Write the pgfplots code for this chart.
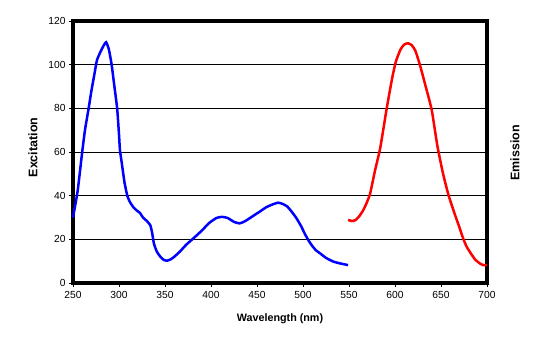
\documentclass[border=0pt]{standalone}
\usepackage{pgfplots}
\pgfplotsset{compat=1.18}
\usepackage{fontspec}
\setmainfont{Liberation Sans}
\begin{document}
\begin{tikzpicture}
\useasboundingbox (0,0) rectangle (540bp,337bp);
\begin{axis}[
  at={(73bp,54bp)}, anchor=south west,
  scale only axis, width=414bp, height=262bp,
  xmin=250, xmax=700, ymin=0, ymax=120,
  xtick={250,300,...,700}, ytick={0,20,...,120},
  axis line style={line width=3.4bp},
  ymajorgrids, major grid style={black, line width=0.9bp},
  tick align=outside, xtick pos=bottom, ytick pos=left,
  major tick length=4bp, tick style={black, line width=0.9bp},
  /pgf/number format/assume math mode=true,
  tick label style={font=\fontsize{10.3}{12}\selectfont},
  xticklabel style={yshift=-1bp},
  clip=false,
]
\addplot[blue, line width=2.5bp, smooth, tension=0.3] coordinates {
(250,30) (255,42) (260,60) (263,70) (267,80) (270,88) (273,95) (276,102)
(280,106) (283,108.5) (286,110.3) (289,107) (292,100) (295,90) (298,80)
(300,68) (301,61) (303,55) (306,46) (309,40) (312,37) (316,34.5) (320,33)
(323,32) (326,30) (330,28.5) (334,26.5) (336,23) (338,18) (341,14.5)
(345,12) (349,10.5) (352,10.2) (356,10.8) (360,12) (366,14.3) (373,17.5)
(381,20.5) (390,24) (398,27.5) (406,29.8) (412,30.3) (418,29.8) (425,28)
(431,27.3) (437,28.3) (445,30.5) (453,32.7) (460,34.7) (467,36) (473,36.8)
(478,36.2) (483,35) (488,32.5) (493,29.6) (498,26) (502,22.5) (506,19.5)
(510,17) (514,15) (518.5,13.6) (525,11.5) (533,9.8) (540,9) (549,8.2)
};
\addplot[red, line width=2.5bp, smooth, tension=0.35] coordinates {
(549,28.9) (553,28.4) (557,28.8) (561,30.5) (565,33) (569,36.5) (573,41)
(578,51) (584,62) (591,80) (597,94) (601,101.5) (606,107) (610,109.2)
(614,109.8) (618,109) (622,106.5) (627,100) (634,89) (640,79) (646,63)
(652,50.5) (658,40.5) (665,31.5) (670,25.5) (674,20.5) (678,16.5) (683,13.2)
(687,10.8) (692,9) (696,8.2) (700,8.2)
};
\end{axis}
\node[rotate=90, font=\fontsize{12.5}{14}\selectfont\bfseries] at (33bp,189.5bp) {Excitation};
\node[rotate=90, font=\fontsize{12.5}{14}\selectfont\bfseries] at (515bp,184bp) {Emission};
\node[font=\fontsize{10.8}{13}\selectfont\bfseries] at (280bp,18bp) {Wavelength (nm)};
\end{tikzpicture}
\end{document}
